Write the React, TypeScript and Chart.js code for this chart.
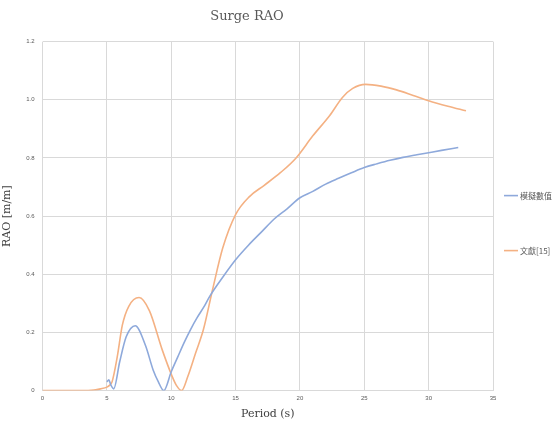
import React, { useEffect, useRef } from "react";
import { Chart, registerables } from "chart.js";

Chart.register(...registerables);

const xTicks = [0, 5, 10, 15, 20, 25, 30, 35];
const yTicks = [0, 0.2, 0.4, 0.6, 0.8, 1, 1.2];

const simLabel = "模擬數值";
const simX = [5.0, 5.15, 5.3, 5.53, 6.0, 6.5, 7.2, 8.0, 8.6, 9.0, 9.42, 10.0, 10.5, 11, 11.5, 12, 12.5, 13, 14, 15, 16, 17, 18, 19, 20, 21, 22, 23, 24, 25, 26, 27, 28, 29, 30, 31, 32.3];
const simY = [0.03, 0.037, 0.02, 0.006, 0.1, 0.185, 0.223, 0.155, 0.07, 0.03, 0.0, 0.065, 0.115, 0.165, 0.21, 0.25, 0.285, 0.325, 0.39, 0.45, 0.5, 0.545, 0.59, 0.625, 0.663, 0.685, 0.71, 0.73, 0.749, 0.767, 0.78, 0.792, 0.802, 0.81, 0.818, 0.826, 0.836];

const refLabel = "文獻[15]";
const refX = [0, 1, 2, 3, 4, 4.5, 5.0, 5.2, 5.4, 5.8, 6.2, 6.7, 7.5, 8.3, 9.3, 10.06, 10.4, 10.8, 11.3, 11.9, 12.5, 13.2, 14, 15, 16.1, 17.2, 18.5, 19.7, 21.0, 22.3, 23.3, 24.1, 25.1, 26.3, 27.5, 28.8, 30, 31.5, 32.9];
const refY = [0, 0, 0, 0, 0.002, 0.006, 0.012, 0.018, 0.03, 0.115, 0.225, 0.29, 0.32, 0.275, 0.14, 0.05, 0.018, 0.0, 0.05, 0.13, 0.21, 0.345, 0.49, 0.605, 0.668, 0.705, 0.75, 0.8, 0.876, 0.945, 1.008, 1.039, 1.053, 1.047, 1.034, 1.015, 0.997, 0.978, 0.962];

const toPts = (xs: number[], ys: number[]) => xs.map((x, i) => ({ x, y: ys[i] }));

const sideLegend = {
  id: "sideLegend",
  afterDraw(chart: any) {
    const { ctx, chartArea } = chart;
    const offsets = [154, 209];
    ctx.save();
    chart.data.datasets.forEach((ds: any, i: number) => {
      const y = chartArea.top + offsets[i];
      const x0 = chartArea.right + 11;
      ctx.strokeStyle = ds.borderColor;
      ctx.lineWidth = 1.6;
      ctx.beginPath();
      ctx.moveTo(x0, y);
      ctx.lineTo(x0 + 14, y);
      ctx.stroke();
      ctx.fillStyle = "#595959";
      ctx.font = "8px 'Noto Sans CJK TC', sans-serif";
      ctx.textBaseline = "middle";
      ctx.textAlign = "left";
      ctx.fillText(ds.label, x0 + 16, y);
    });
    ctx.restore();
  },
};

export default function App() {
  const ref = useRef<HTMLCanvasElement | null>(null);
  useEffect(() => {
    document.body.style.margin = "0";
    const ctx = ref.current!.getContext("2d")!;
    const chart = new Chart(ctx, {
      type: "scatter",
      data: {
        datasets: [
          {
            label: simLabel,
            data: toPts(simX, simY),
            showLine: true,
            borderColor: "#8ea9db",
            backgroundColor: "#8ea9db",
            borderWidth: 1.6,
            pointRadius: 0,
            cubicInterpolationMode: "monotone",
          },
          {
            label: refLabel,
            data: toPts(refX, refY),
            showLine: true,
            borderColor: "#f4b183",
            backgroundColor: "#f4b183",
            borderWidth: 1.6,
            pointRadius: 0,
            cubicInterpolationMode: "monotone",
          },
        ],
      },
      options: {
        animation: false,
        responsive: true,
        maintainAspectRatio: false,
        layout: { padding: { left: 1, right: 67, top: 7, bottom: 2 } },
        plugins: {
          title: {
            display: true,
            text: "Surge RAO",
            color: "#595959",
            font: { family: "'DejaVu Serif', serif", size: 13, weight: "normal" },
            padding: { top: 2, bottom: 17 },
          },
          legend: { display: false },
          tooltip: { enabled: false },
        },
        scales: {
          x: {
            type: "linear",
            min: 0,
            max: 35,
            afterBuildTicks: (axis: any) => {
              axis.ticks = xTicks.map((v) => ({ value: v }));
            },
            ticks: { color: "#595959", font: { size: 6 }, padding: 4 },
            grid: { color: "#d9d9d9", drawTicks: false },
            border: { display: false },
            title: {
              display: true,
              text: "Period (s)",
              color: "#404040",
              font: { family: "'DejaVu Serif', serif", size: 11 },
              padding: { top: 2, bottom: 0 },
            },
          },
          y: {
            type: "linear",
            min: 0,
            max: 1.2,
            afterBuildTicks: (axis: any) => {
              axis.ticks = yTicks.map((v) => ({ value: v }));
            },
            ticks: { color: "#595959", font: { size: 6 }, padding: 8 },
            grid: { color: "#d9d9d9", drawTicks: false },
            border: { display: false },
            title: {
              display: true,
              text: "RAO [m/m]",
              color: "#404040",
              font: { family: "'DejaVu Serif', serif", size: 11 },
              padding: { top: 0, bottom: 4 },
            },
          },
        },
      },
      plugins: [sideLegend],
    } as any);
    return () => chart.destroy();
  }, []);
  return (
    <div style={{ position: "fixed", left: 0, top: 0, width: 560, height: 423, background: "#fff" }}>
      <canvas ref={ref} />
    </div>
  );
}
